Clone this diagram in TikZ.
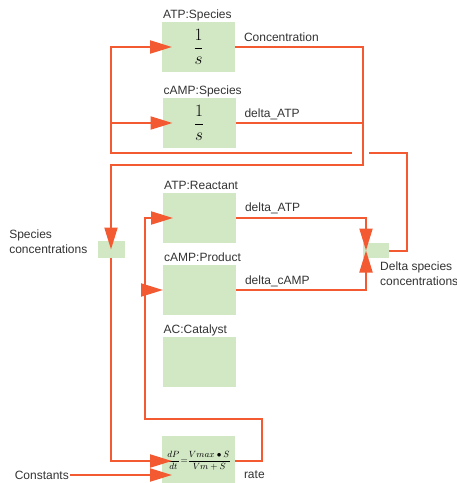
\documentclass[tikz,border=0pt]{standalone}
\usepackage{fontspec}
\setmainfont{Liberation Sans}
\usetikzlibrary{arrows.meta}

\definecolor{wireOrange}{HTML}{F45A32}
\definecolor{blockGreen}{HTML}{D2E8C5}
\definecolor{textGray}{HTML}{333333}

\begin{document}
\begin{tikzpicture}[
  x=1pt, y=-1pt,
  font=\fontsize{12}{15}\selectfont,
  text=textGray,
  Block/.style={fill=blockGreen, minimum width=73pt, minimum height=50pt,
                inner sep=0pt, outer sep=0pt},
  Tag/.style={fill=blockGreen, inner sep=0pt, outer sep=0pt},
  BlockName/.style={anchor=south west, inner sep=1pt, text depth=2.5pt},
  Wire/.style={draw=wireOrange, line width=2pt},
  Feed/.style={Wire, -{Triangle[length=22pt, width=13pt]}},
  OutText/.style={anchor=south west, inner sep=1pt, text height=9pt,
                  text depth=2.5pt, xshift=7pt, yshift=1pt},
  Eq/.style={font=\fontsize{16.5}{18}\selectfont, text=black},
  ]
\useasboundingbox (0,0) rectangle (457,483);

% blocks
\node [Block, Eq, label={[BlockName, font=\fontsize{12}{15}\selectfont, text=textGray]north west:{ATP:Species}}] (sAtp) at (198.5,47) {$\displaystyle\frac{1}{s}$};
\node [Block, Eq, label={[BlockName, font=\fontsize{12}{15}\selectfont, text=textGray]north west:{cAMP:Species}}] (sCamp) at (199,123) {$\displaystyle\frac{1}{s}$};
\node [Block, label={[BlockName]north west:{ATP:Reactant}}] (rAtp) at (199.5,218) {};
\node [Block, label={[BlockName]north west:{cAMP:Product}}] (pCamp) at (199.5,290) {};
\node [Block, label={[BlockName]north west:{AC:Catalyst}}] (cAc) at (199,362) {};
\node [Block, font=\fontsize{9}{10}\selectfont, text=black] (rate) at (198.5,461)
      {$\displaystyle\frac{dP}{dt}{=}\frac{Vmax\bullet S}{Vm+S}$};

\node [Tag, minimum width=27pt, minimum height=17pt,
       label={[align=left, anchor=east, inner sep=1pt, xshift=-9pt, yshift=8pt]west:{Species\\concentrations}}] (spc) at (111,249.5) {};
\node [Tag, minimum width=26pt, minimum height=15pt,
       label={[align=left, anchor=north west, inner sep=1pt, xshift=16pt, yshift=-3pt]south west:{Delta species\\concentrations}}] (dspc) at (376,250.5) {};
\node [anchor=east, inner sep=1pt] (cst) at (70,475) {Constants};

\coordinate (busR) at (363,165);
\coordinate (fbR) at (407,153);
\coordinate (jmpR) at (369,153);
\coordinate (jmpL) at (352,153);
\coordinate (fbL) at (111,153);
\coordinate (rtR) at (262,419);
\coordinate (rtL) at (145,419);
\coordinate (dIn) at (366,250.5);

% species outputs
\draw [Feed] (sAtp.east) -| node[OutText, at start] {Concentration} (busR) -| (spc.center);
\draw [Wire] (sCamp.east) -- node[OutText, at start] {delta\_ATP} (sCamp.east -| busR);
\draw [Feed, shorten >=-10pt] (spc.south) |- (rate.west);

% delta feedback
\draw [Wire] (dspc.east) -| (fbR) -- (jmpR);
\draw [Feed, shorten >=-10pt] (jmpL) -- (fbL) |- (sAtp.west);
\draw [Feed, shorten >=-10pt] (fbL |- sCamp.west) -- (sCamp.west);

% rate loop
\draw [Feed, shorten >=-10pt] (rate.east) -| node[OutText, at start, anchor=north west, yshift=-7pt] {rate} (rtR) -- (rtL) |- (rAtp.west);
\draw [Feed] (rtL |- pCamp.west) -- (pCamp.west);
\draw [Feed, shorten >=-10pt] (cst.east) -- (cst -| rate.west);

% into delta
\draw [Feed] (rAtp.east) -| node[OutText, at start, yshift=1.5pt] {delta\_ATP} (dIn);
\draw [Feed] (pCamp.east) -| node[OutText, at start] {delta\_cAMP} (dIn);
\end{tikzpicture}
\end{document}
